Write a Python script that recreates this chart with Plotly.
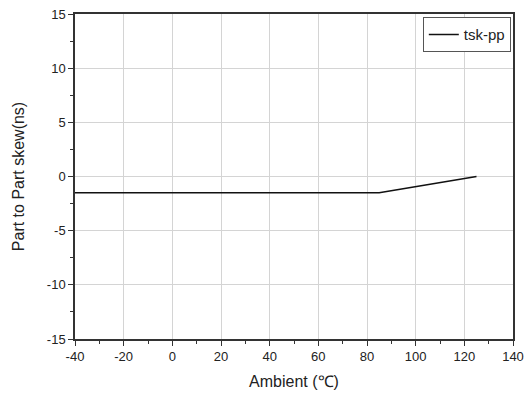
import plotly.graph_objects as go

# Part-to-part skew versus ambient temperature
ambient_c = [-40, 85, 125]
skew_ns = [-1.5, -1.5, 0.0]

x_ticks = [-40, -20, 0, 20, 40, 60, 80, 100, 120, 140]
y_ticks = [-15, -10, -5, 0, 5, 10, 15]
x_tick_text = [str(v) for v in x_ticks]
y_tick_text = [str(v) for v in y_ticks]

FONT = "Liberation Sans, Arial"
INK = "#222222"

fig = go.Figure()
fig.add_trace(go.Scatter(
    x=ambient_c, y=skew_ns, mode="lines", name="tsk-pp",
    line=dict(color="#111111", width=1.6),
))

axis_common = dict(
    showline=True, linecolor="#333333", linewidth=1.5, mirror=True,
    ticks="outside", ticklen=5, tickwidth=1, tickcolor="#333333",
    showgrid=True, gridcolor="#d4d4d4", gridwidth=1,
    zeroline=False, automargin=False,
    tickfont=dict(family=FONT, size=13, color=INK),
)

fig.update_xaxes(
    range=[-40, 140], tickvals=x_ticks, ticktext=x_tick_text,
    minor=dict(dtick=10, ticklen=3, tickcolor="#333333", ticks="outside", showgrid=False),
    title=dict(text="Ambient (℃)", font=dict(family=FONT, size=16, color=INK), standoff=12),
    **axis_common,
)
fig.update_yaxes(
    range=[-15, 15], tickvals=y_ticks, ticktext=y_tick_text,
    minor=dict(dtick=2.5, ticklen=3, tickcolor="#333333", ticks="outside", showgrid=False),
    title=dict(text="Part to Part skew(ns)", font=dict(family=FONT, size=16, color=INK), standoff=18),
    **axis_common,
)

fig.update_layout(
    width=524, height=394,
    margin=dict(l=75, r=11, t=14, b=55),
    plot_bgcolor="white", paper_bgcolor="white",
    showlegend=True,
    legend=dict(
        x=0.995, y=0.99, xanchor="right", yanchor="top",
        bgcolor="white", bordercolor="#555555", borderwidth=1,
        font=dict(family=FONT, size=15, color=INK),
        tracegroupgap=0,
    ),
)

fig.write_html("out.html")
